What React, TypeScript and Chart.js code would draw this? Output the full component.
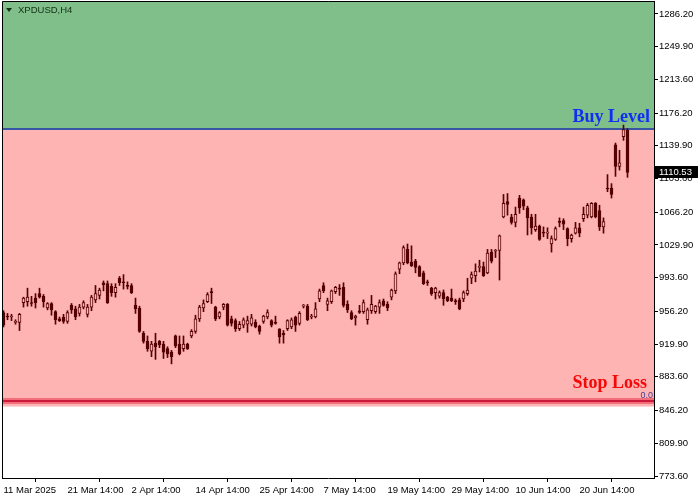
import React, { useEffect, useRef } from "react";
import { Chart, registerables } from "chart.js";

Chart.register(...registerables);

const SYMBOL = "XPDUSD,H4";

const OPEN = [
  955, 951, 950, 944, 944, 966, 967, 966, 971, 976, 973, 960, 965, 956, 948, 950,
  945, 963, 959, 954, 961, 953, 961, 969, 974, 988, 987, 984, 977, 993, 989, 985,
  985, 963, 960, 932, 923, 912, 921, 923, 920, 915, 911, 929, 920, 915, 920, 929,
  934, 948, 960, 967, 978, 961, 950, 961, 964, 948, 946, 937, 941, 942, 942, 944,
  940, 945, 950, 946, 944, 937, 932, 937, 939, 950, 943, 962, 962, 950, 950, 970,
  985, 964, 967, 978, 982, 983, 964, 955, 949, 957, 956, 947, 957, 956, 961, 968,
  964, 972, 979, 1003, 1010, 1025, 1011, 1012, 1006, 999, 989, 982, 977, 973, 977, 972,
  971, 968, 969, 970, 976, 993, 996, 1005, 1006, 999, 1022, 1023, 1024, 1061, 1078, 1061,
  1055, 1082, 1080, 1071, 1061, 1047, 1051, 1044, 1043, 1031, 1036, 1056, 1057, 1048, 1037, 1043,
  1049, 1059, 1063, 1061, 1076, 1068, 1050, 1093, 1093, 1141, 1117, 1150, 1157,
];
const HIGH = [
  957, 954, 953, 947, 954, 972, 982, 973, 976, 982, 975, 966, 966, 957, 950, 953,
  957, 965, 962, 964, 968, 964, 974, 985, 982, 990, 990, 987, 987, 995, 997, 989,
  987, 971, 962, 934, 929, 923, 932, 924, 923, 917, 913, 930, 929, 929, 921, 936,
  952, 963, 969, 977, 982, 962, 956, 965, 965, 951, 948, 945, 949, 951, 953, 947,
  941, 952, 958, 947, 951, 937, 935, 947, 949, 951, 956, 964, 964, 953, 966, 981,
  988, 971, 980, 984, 986, 988, 968, 957, 952, 963, 969, 960, 974, 963, 969, 970,
  967, 981, 1000, 1011, 1029, 1031, 1029, 1014, 1007, 1001, 991, 983, 983, 979, 980, 973,
  981, 970, 971, 979, 993, 1000, 1009, 1013, 1011, 1025, 1025, 1025, 1041, 1086, 1087, 1064,
  1072, 1085, 1081, 1073, 1064, 1064, 1052, 1050, 1049, 1040, 1050, 1060, 1059, 1049, 1042, 1055,
  1054, 1072, 1076, 1077, 1077, 1074, 1060, 1108, 1098, 1143, 1135, 1163, 1159,
];
const LOW = [
  939, 947, 946, 942, 935, 961, 962, 962, 960, 971, 961, 958, 952, 942, 945, 943,
  943, 954, 947, 951, 959, 950, 957, 966, 970, 979, 965, 973, 972, 985, 981, 981,
  976, 954, 933, 921, 912, 906, 903, 916, 904, 905, 898, 916, 908, 912, 914, 927,
  932, 945, 956, 966, 965, 946, 948, 958, 940, 940, 934, 935, 938, 933, 940, 938,
  931, 943, 948, 939, 942, 921, 921, 935, 937, 934, 941, 960, 946, 948, 949, 967,
  977, 957, 965, 976, 974, 961, 955, 947, 941, 954, 954, 942, 954, 954, 954, 962,
  957, 969, 976, 998, 1008, 1009, 1006, 999, 995, 986, 985, 974, 970, 971, 963, 967,
  967, 964, 958, 967, 974, 987, 989, 1000, 995, 998, 1010, 1016, 991, 1060, 1063, 1053,
  1050, 1065, 1069, 1041, 1042, 1045, 1035, 1039, 1037, 1022, 1035, 1050, 1047, 1029, 1033, 1042,
  1039, 1056, 1060, 1060, 1060, 1046, 1043, 1089, 1082, 1106, 1113, 1146, 1105,
];
const CLOSE = [
  941, 950, 951, 945, 953, 971, 972, 965, 966, 972, 967, 965, 958, 947, 946, 945,
  955, 958, 950, 961, 966, 961, 972, 976, 980, 986, 966, 977, 983, 988, 988, 984,
  977, 959, 934, 923, 915, 920, 917, 919, 911, 909, 906, 918, 909, 920, 915, 934,
  948, 961, 965, 975, 977, 948, 955, 964, 941, 943, 937, 942, 947, 946, 949, 939,
  934, 951, 955, 941, 943, 928, 930, 946, 947, 941, 954, 963, 947, 951, 959, 979,
  979, 968, 979, 983, 981, 963, 958, 948, 951, 955, 966, 958, 964, 962, 966, 963,
  960, 980, 998, 1010, 1027, 1010, 1007, 1005, 995, 987, 988, 976, 982, 977, 970, 968,
  968, 967, 959, 977, 980, 997, 1001, 1006, 996, 1021, 1012, 1024, 1040, 1076, 1075, 1055,
  1064, 1071, 1073, 1060, 1049, 1051, 1036, 1043, 1044, 1037, 1048, 1055, 1053, 1037, 1041, 1049,
  1043, 1064, 1074, 1076, 1061, 1050, 1056, 1092, 1086, 1117, 1121, 1158, 1110.53,
];

const X_TICK_INDEX = [0, 16, 32, 48, 64, 80, 96, 112, 128, 144];
const X_TICK_LABELS = [
  "11 Mar 2025", "21 Mar 14:00", "2 Apr 14:00", "14 Apr 14:00", "25 Apr 14:00",
  "7 May 14:00", "19 May 14:00", "29 May 14:00", "10 Jun 14:00", "20 Jun 14:00",
];
const Y_TICKS = [
  1286.2, 1249.9, 1213.6, 1176.2, 1139.9, 1103.6, 1066.2, 1029.9, 993.6, 956.2,
  919.9, 883.6, 846.2, 809.9, 773.6,
];

const BUY_LEVEL = 1158.6;
const STOP_LOSS = 856.8;
const ZONE_BOTTOM = 850.7;

const GREEN = "rgb(128,191,138)";
const PINK = "rgb(255,180,180)";
const DARK = "#560000";
const FONT = '"Liberation Sans", Arial, sans-serif';
const SERIF = '"Liberation Serif", "Times New Roman", serif';

const overlayPlugin = {
  id: "overlay",
  beforeDatasetsDraw(chart: any) {
    const { ctx, chartArea: a, scales } = chart;
    const y = scales.y;
    const yBuy = y.getPixelForValue(BUY_LEVEL);
    const yBot = y.getPixelForValue(ZONE_BOTTOM);
    const ySL = y.getPixelForValue(STOP_LOSS);
    ctx.save();
    ctx.fillStyle = GREEN;
    ctx.fillRect(a.left, a.top, a.right - a.left, yBuy - a.top);
    ctx.fillStyle = PINK;
    ctx.fillRect(a.left, yBuy, a.right - a.left, yBot - yBuy);
    ctx.fillStyle = "rgb(242,110,122)";
    ctx.fillRect(a.left, Math.round(ySL) - 3, a.right - a.left, 6);
    ctx.fillStyle = "rgb(205,25,60)";
    ctx.fillRect(a.left, Math.round(ySL) - 1, a.right - a.left, 2);
    ctx.fillStyle = "rgb(55,85,165)";
    ctx.fillRect(a.left, Math.round(yBuy) - 1, a.right - a.left, 2);
    ctx.restore();
  },
  afterDraw(chart: any) {
    const { ctx, chartArea: a, scales } = chart;
    const y = scales.y;
    const yBuy = y.getPixelForValue(BUY_LEVEL);
    const ySL = y.getPixelForValue(STOP_LOSS);
    ctx.save();
    // frame (left and top)
    ctx.strokeStyle = "#000";
    ctx.lineWidth = 1;
    ctx.beginPath();
    ctx.moveTo(a.left + 0.5, a.bottom);
    ctx.lineTo(a.left + 0.5, a.top + 0.5);
    ctx.lineTo(a.right, a.top + 0.5);
    ctx.stroke();

    // symbol title
    ctx.fillStyle = "#123016";
    ctx.beginPath();
    ctx.moveTo(6, 8);
    ctx.lineTo(12, 8);
    ctx.lineTo(9, 12);
    ctx.closePath();
    ctx.fill();
    ctx.font = `9.5px ${FONT}`;
    ctx.textBaseline = "middle";
    ctx.textAlign = "left";
    ctx.fillText(SYMBOL, 18, 10.5);

    // level labels
    ctx.font = `bold 18px ${SERIF}`;
    ctx.textAlign = "right";
    ctx.textBaseline = "alphabetic";
    ctx.fillStyle = "rgb(16,48,240)";
    ctx.fillText("Buy Level", 650, yBuy - 7);
    ctx.fillStyle = "rgb(245,8,8)";
    ctx.fillText("Stop Loss", 647, ySL - 13);

    ctx.font = `9px ${FONT}`;
    ctx.fillStyle = "rgb(70,60,140)";
    ctx.fillText("0.0", 653, ySL - 3);

    // current price box
    const last = CLOSE[CLOSE.length - 1];
    const yp = y.getPixelForValue(last);
    ctx.fillStyle = "#000";
    ctx.fillRect(a.right + 1, Math.round(yp) - 6, 43, 12);
    ctx.fillStyle = "#fff";
    ctx.textAlign = "left";
    ctx.textBaseline = "middle";
    ctx.font = `9.5px ${FONT}`;
    ctx.fillText(last.toFixed(2), 659, Math.round(yp));
    ctx.restore();
  },
};

export default function App() {
  const ref = useRef<HTMLCanvasElement>(null);

  useEffect(() => {
    const bodies = OPEN.map((o, i) => ({ x: i, y: [o, CLOSE[i]] }));
    const wicks = OPEN.map((_, i) => ({ x: i, y: [LOW[i], HIGH[i]] }));
    const bodyColors = OPEN.map((o, i) => (CLOSE[i] >= o ? PINK : DARK));

    const chart = new Chart(ref.current as HTMLCanvasElement, {
      type: "bar",
      data: {
        datasets: [
          {
            label: "body",
            data: bodies as any,
            backgroundColor: bodyColors,
            borderColor: DARK,
            borderWidth: 1,
            borderSkipped: false,
            barThickness: 3,
            grouped: false,
            minBarLength: 1,
            order: 0,
          } as any,
          {
            label: "wick",
            data: wicks as any,
            backgroundColor: DARK,
            borderWidth: 0,
            barThickness: 1,
            grouped: false,
            order: 1,
          } as any,
        ],
      },
      options: {
        responsive: false,
        animation: false,
        events: [],
        layout: { padding: { left: 2, top: 1, right: 0, bottom: 0 } },
        plugins: {
          legend: { display: false },
          tooltip: { enabled: false },
          title: { display: false },
        },
        scales: {
          x: {
            type: "linear",
            offset: false,
            min: -0.375,
            max: 162.625,
            afterBuildTicks: (scale: any) => {
              scale.ticks = X_TICK_INDEX.map((v) => ({ value: v }));
            },
            afterFit: (scale: any) => {
              scale.height = 22;
              scale.paddingLeft = 0;
              scale.paddingRight = 0;
              scale.paddingTop = 0;
              scale.paddingBottom = 0;
            },
            grid: {
              drawOnChartArea: false,
              drawTicks: true,
              tickLength: 4,
              color: "#000",
              tickColor: "#000",
            },
            border: { display: true, color: "#000", width: 1 },
            ticks: {
              autoSkip: false,
              maxRotation: 0,
              minRotation: 0,
              align: "start",
              padding: 3,
              color: "#000",
              font: { family: FONT, size: 9.5 },
              callback: (_v: any, idx: number) => X_TICK_LABELS[idx],
            },
          },
          y: {
            type: "linear",
            position: "right",
            min: 771.4,
            max: 1300.6,
            afterBuildTicks: (scale: any) => {
              scale.ticks = Y_TICKS.map((v) => ({ value: v }));
            },
            afterFit: (scale: any) => {
              scale.width = 46;
              scale.paddingLeft = 0;
              scale.paddingRight = 0;
              scale.paddingTop = 0;
              scale.paddingBottom = 0;
            },
            grid: {
              drawOnChartArea: false,
              drawTicks: true,
              tickLength: 4,
              color: "#000",
              tickColor: "#000",
            },
            border: { display: true, color: "#000", width: 1 },
            ticks: {
              autoSkip: false,
              padding: 1,
              color: "#000",
              font: { family: FONT, size: 9.5 },
              callback: (v: any) => Number(v).toFixed(2),
            },
          },
        },
      },
      plugins: [overlayPlugin],
    } as any);

    return () => chart.destroy();
  }, []);

  return (
    <div style={{ position: "fixed", left: 0, top: 0, width: 700, height: 500, background: "#fff" }}>
      <canvas ref={ref} width={700} height={500} style={{ width: 700, height: 500, display: "block" }} />
    </div>
  );
}
